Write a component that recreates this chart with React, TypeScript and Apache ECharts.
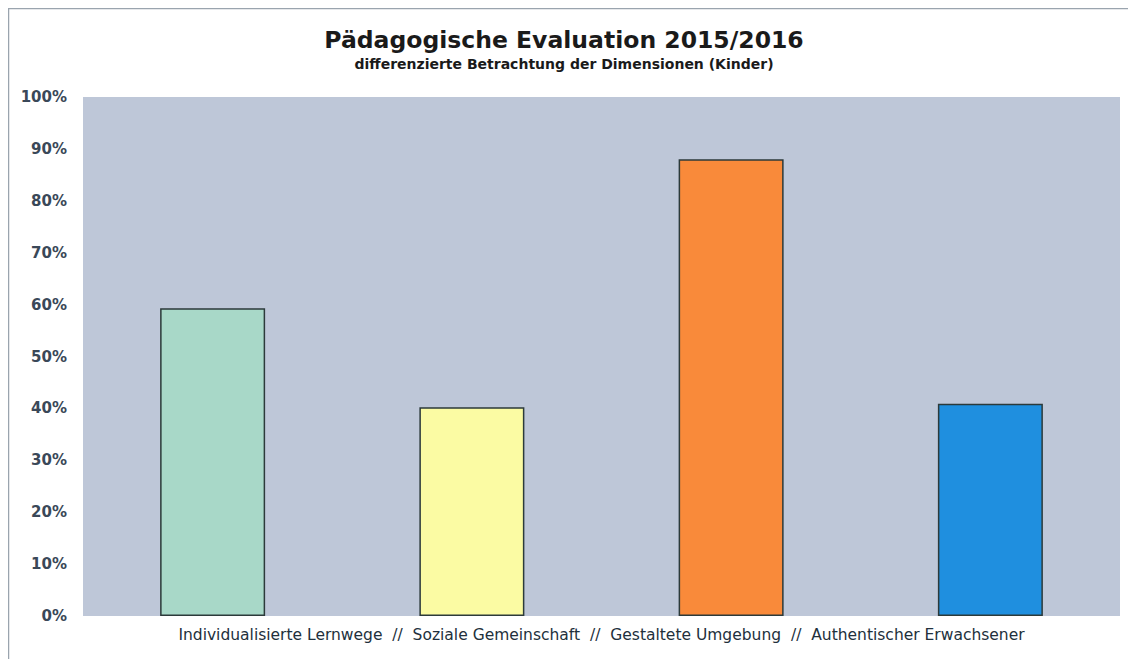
import React, { useEffect, useRef } from "react";
import * as echarts from "echarts";

const categories = [
  "Individualisierte Lernwege",
  "Soziale Gemeinschaft",
  "Gestaltete Umgebung",
  "Authentischer Erwachsener",
];
const values = [0.593, 0.402, 0.88, 0.409];
const barColors = ["#a8d8c8", "#fbfba3", "#f98a3a", "#1f8fdf"];
const yTicks = [0, 0.1, 0.2, 0.3, 0.4, 0.5, 0.6, 0.7, 0.8, 0.9, 1];
const titleText = "Pädagogische Evaluation 2015/2016";
const subtitleText = "differenzierte Betrachtung der Dimensionen (Kinder)";

export default function App() {
  const ref = useRef<HTMLDivElement>(null);
  useEffect(() => {
    if (!ref.current) return;
    const chart = echarts.init(ref.current, null, { renderer: "svg" });
    chart.setOption({
      animation: false,
      backgroundColor: "#ffffff",
      textStyle: { fontFamily: "DejaVu Sans" },
      title: {
        text: titleText,
        subtext: subtitleText,
        left: 551,
        top: 15,
        textAlign: "center",
        itemGap: 5,
        textStyle: { fontFamily: "DejaVu Sans", fontWeight: "bold", fontSize: 23.5, color: "#1a1a1a" },
        subtextStyle: { fontFamily: "DejaVu Sans", fontWeight: "bold", fontSize: 14, color: "#1a1a1a" },
      },
      graphic: [
        {
          type: "rect",
          shape: { x: 0.5, y: 0.5, width: 1300, height: 800 },
          style: { fill: "none", stroke: "#9aa4ae", lineWidth: 1.5 },
          silent: true,
        },
      ],
      grid: {
        left: 75,
        top: 89,
        width: 1037,
        height: 519,
        show: true,
        backgroundColor: "#bec7d8",
        borderWidth: 0,
      },
      xAxis: {
        type: "category",
        data: categories,
        axisLine: { show: false },
        axisTick: { show: false },
        axisLabel: { show: false },
        name: categories.join("  //  "),
        nameLocation: "middle",
        nameGap: 11,
        nameTextStyle: { fontFamily: "DejaVu Sans", fontSize: 15.5, color: "#22303c", verticalAlign: "top" },
      },
      yAxis: {
        type: "value",
        min: yTicks[0],
        max: yTicks[yTicks.length - 1],
        interval: 0.1,
        axisLine: { show: false },
        axisTick: { show: false },
        splitLine: { show: false },
        axisLabel: {
          formatter: (v: number) => Math.round(v * 100) + "%",
          fontFamily: "DejaVu Sans",
          fontWeight: "bold",
          fontSize: 15,
          color: "#3a4858",
          margin: 16,
        },
      },
      series: [
        {
          type: "bar",
          barWidth: 105,
          data: values.map((v, i) => ({
            value: v,
            itemStyle: { color: barColors[i], borderColor: "#2c3a3a", borderWidth: 1.5 },
          })),
        },
      ],
    });
    return () => chart.dispose();
  }, []);
  return <div ref={ref} style={{ width: 1128, height: 651 }} />;
}
